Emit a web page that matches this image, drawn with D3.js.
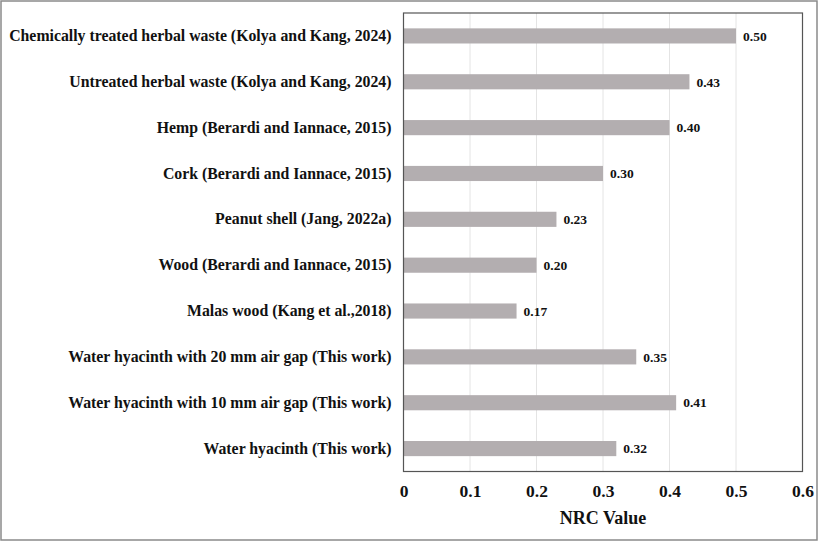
<!DOCTYPE html>
<html><head><meta charset="utf-8">
<script src="https://cdn.jsdelivr.net/npm/d3@7"></script>
<style>body{margin:0;background:#fff}svg{display:block}</style>
</head><body>
<script>
const categories = [
  "Chemically treated herbal waste (Kolya and Kang, 2024)",
  "Untreated herbal waste (Kolya and Kang, 2024)",
  "Hemp (Berardi and Iannace, 2015)",
  "Cork (Berardi and Iannace, 2015)",
  "Peanut shell (Jang, 2022a)",
  "Wood (Berardi and Iannace, 2015)",
  "Malas wood (Kang et al.,2018)",
  "Water hyacinth with 20 mm air gap (This work)",
  "Water hyacinth with 10 mm air gap (This work)",
  "Water hyacinth (This work)"
];
const values = [0.50, 0.43, 0.40, 0.30, 0.23, 0.20, 0.17, 0.35, 0.41, 0.32];
const xTicks = [0, 0.1, 0.2, 0.3, 0.4, 0.5, 0.6];
const xTitle = "NRC Value";

const W = 827, H = 544;
const svg = d3.select("body").append("svg").attr("width", W).attr("height", H);
const font = "'Liberation Serif', 'Times New Roman', serif";
svg.append("rect").attr("x",1).attr("y",1).attr("width",816).attr("height",539)
  .attr("fill","#fff").attr("stroke","#8a8a8a").attr("stroke-width",1.5);

const L = 403.5, R = 802.5, T = 13, B = 471.5;
const x = d3.scaleLinear().domain([0,0.6]).range([L,R]);
const y = d3.scaleBand().domain(categories).range([T,B]).paddingInner(0.67).paddingOuter(0.335);

svg.append("g").selectAll("line").data(xTicks.slice(1)).join("line")
  .attr("x1",d=>x(d)).attr("x2",d=>x(d)).attr("y1",T).attr("y2",B)
  .attr("stroke","#e4e4e4").attr("stroke-width",1);

svg.append("g").selectAll("rect").data(values).join("rect")
  .attr("x",x(0)).attr("y",(d,i)=>y(categories[i]))
  .attr("width",d=>x(d)-x(0)).attr("height",y.bandwidth())
  .attr("fill","#b3aeb0");

svg.append("g").selectAll("text").data(values).join("text")
  .attr("x",d=>x(d)+7).attr("y",(d,i)=>y(categories[i])+y.bandwidth()/2)
  .attr("dy","0.35em").attr("font-family",font).attr("font-weight","bold")
  .attr("font-size",13.5).attr("fill","#111").text(d=>d.toFixed(2));

svg.append("rect").attr("x",L).attr("y",T).attr("width",R-L).attr("height",B-T)
  .attr("fill","none").attr("stroke","#555").attr("stroke-width",1.2);

const yAxis = svg.append("g").attr("transform",`translate(${L},0)`)
  .call(d3.axisLeft(y).tickSize(0).tickPadding(12));
yAxis.select(".domain").remove();
yAxis.selectAll("text").attr("font-family",font).attr("font-weight","bold")
  .attr("font-size",15.8).attr("fill","#111");

const xAxis = svg.append("g").attr("transform",`translate(0,${B})`)
  .call(d3.axisBottom(x).tickValues(xTicks).tickSize(0).tickPadding(13).tickFormat(d=>d===0?"0":d3.format(".1f")(d)));
xAxis.select(".domain").remove();
xAxis.selectAll("text").attr("font-family",font).attr("font-weight","bold")
  .attr("font-size",17.5).attr("fill","#111");

svg.append("text").attr("x",(L+R)/2).attr("y",524).attr("text-anchor","middle")
  .attr("font-family",font).attr("font-weight","bold").attr("font-size",18)
  .attr("fill","#111").text(xTitle);
</script>
</body></html>
